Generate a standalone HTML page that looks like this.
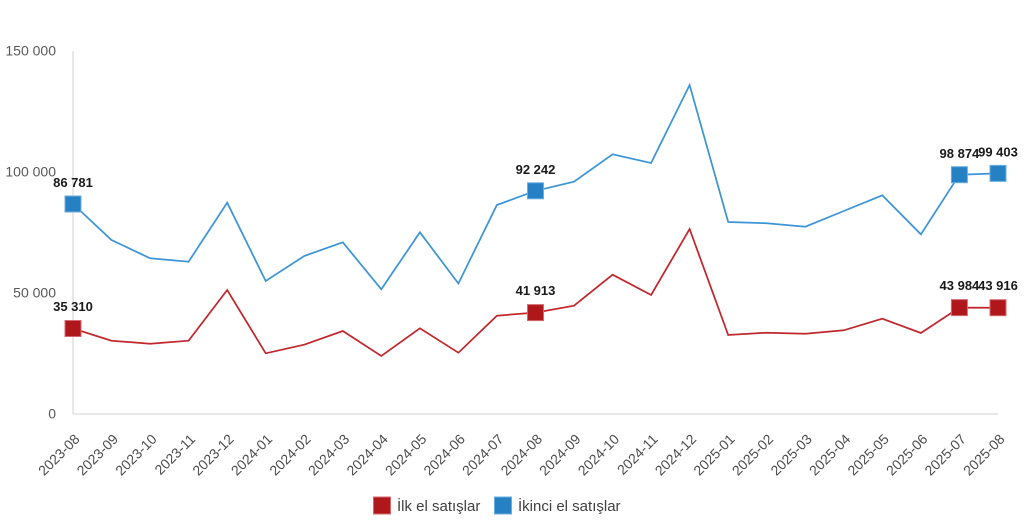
<!DOCTYPE html>
<html>
<head>
<meta charset="utf-8">
<style>
  html, body { margin: 0; padding: 0; background: #ffffff; }
  svg { display: block; }
  .yl { font-family: "Liberation Sans", Arial, sans-serif; font-size: 14px; fill: #595959; }
  .xl { font-family: "Liberation Sans", Arial, sans-serif; font-size: 14px; fill: #4d4d4d; }
  .dl { font-family: "Liberation Sans", Arial, sans-serif; font-size: 13px; font-weight: bold; fill: #1a1a1a; }
  .lg { font-family: "Liberation Sans", Arial, sans-serif; font-size: 15px; fill: #404040; }
</style>
</head>
<body>
<svg width="1024" height="526" viewBox="0 0 1024 526" xmlns="http://www.w3.org/2000/svg">
  <rect width="1024" height="526" fill="#ffffff"/>
  <!-- axes -->
  <line x1="73" y1="51" x2="73" y2="414" stroke="#d9d9d9" stroke-width="1.2"/>
  <line x1="73" y1="414" x2="998" y2="414" stroke="#d9d9d9" stroke-width="1.2"/>

  <!-- y labels -->
  <text class="yl" x="56" y="55.5" text-anchor="end">150 000</text>
  <text class="yl" x="56" y="176.5" text-anchor="end">100 000</text>
  <text class="yl" x="56" y="297.5" text-anchor="end">50 000</text>
  <text class="yl" x="56" y="418.5" text-anchor="end">0</text>

  <!-- x labels -->
  <g class="xl" text-anchor="end">
    <text transform="translate(80.5,440) rotate(-45)">2023-08</text>
    <text transform="translate(119,440) rotate(-45)">2023-09</text>
    <text transform="translate(157.6,440) rotate(-45)">2023-10</text>
    <text transform="translate(196.1,440) rotate(-45)">2023-11</text>
    <text transform="translate(234.7,440) rotate(-45)">2023-12</text>
    <text transform="translate(273.2,440) rotate(-45)">2024-01</text>
    <text transform="translate(311.7,440) rotate(-45)">2024-02</text>
    <text transform="translate(350.3,440) rotate(-45)">2024-03</text>
    <text transform="translate(388.8,440) rotate(-45)">2024-04</text>
    <text transform="translate(427.4,440) rotate(-45)">2024-05</text>
    <text transform="translate(465.9,440) rotate(-45)">2024-06</text>
    <text transform="translate(504.4,440) rotate(-45)">2024-07</text>
    <text transform="translate(543,440) rotate(-45)">2024-08</text>
    <text transform="translate(581.5,440) rotate(-45)">2024-09</text>
    <text transform="translate(620.1,440) rotate(-45)">2024-10</text>
    <text transform="translate(658.6,440) rotate(-45)">2024-11</text>
    <text transform="translate(697.1,440) rotate(-45)">2024-12</text>
    <text transform="translate(735.7,440) rotate(-45)">2025-01</text>
    <text transform="translate(774.2,440) rotate(-45)">2025-02</text>
    <text transform="translate(812.8,440) rotate(-45)">2025-03</text>
    <text transform="translate(851.3,440) rotate(-45)">2025-04</text>
    <text transform="translate(889.8,440) rotate(-45)">2025-05</text>
    <text transform="translate(928.4,440) rotate(-45)">2025-06</text>
    <text transform="translate(966.9,440) rotate(-45)">2025-07</text>
    <text transform="translate(1005.5,440) rotate(-45)">2025-08</text>
  </g>

  <!-- blue series -->
  <polyline fill="none" stroke="#3d95d6" stroke-width="1.75" stroke-linejoin="miter"
    points="73,204 111.5,240 150.1,258.3 188.6,261.7 227.2,202.7 265.7,281 304.2,256 342.8,242.3 381.3,289.3 419.9,232.3 458.4,283.5 496.9,205 535.5,190.8 574,181.7 612.6,154.3 651.1,163 689.6,85 728.2,222 766.7,223.3 805.3,226.7 843.8,211 882.3,195.3 920.9,234.3 959.4,174.7 998,173.4"/>
  <!-- red series -->
  <polyline fill="none" stroke="#c0282e" stroke-width="1.75" stroke-linejoin="miter"
    points="73,328.5 111.5,340.7 150.1,343.7 188.6,340.7 227.2,290 265.7,353.3 304.2,344.7 342.8,331 381.3,356 419.9,328.3 458.4,352.7 496.9,315.7 535.5,312.6 574,305.7 612.6,274.7 651.1,295 689.6,229 728.2,335 766.7,332.7 805.3,333.7 843.8,330.3 882.3,318.7 920.9,333 959.4,307.6 998,307.7"/>

  <!-- blue markers -->
  <g fill="#2581c4" stroke="#6aaee0" stroke-width="1">
    <rect x="65" y="196" width="16" height="16"/>
    <rect x="527.5" y="182.8" width="16" height="16"/>
    <rect x="951.4" y="166.7" width="16" height="16"/>
    <rect x="990" y="165.4" width="16" height="16"/>
  </g>
  <!-- red markers -->
  <g fill="#b0171b" stroke="#d46a6d" stroke-width="1">
    <rect x="65" y="320.5" width="16" height="16"/>
    <rect x="527.5" y="304.6" width="16" height="16"/>
    <rect x="951.4" y="299.6" width="16" height="16"/>
    <rect x="990" y="299.7" width="16" height="16"/>
  </g>

  <!-- data labels -->
  <g class="dl" text-anchor="middle">
    <text x="73" y="187">86 781</text>
    <text x="535.5" y="174">92 242</text>
    <text x="959.4" y="158">98 874</text>
    <text x="998" y="156.5">99 403</text>
    <text x="73" y="311">35 310</text>
    <text x="535.5" y="295">41 913</text>
    <text x="959.4" y="290">43 984</text>
    <text x="998" y="290">43 916</text>
  </g>

  <!-- legend -->
  <rect x="373.5" y="497" width="17" height="17" fill="#b0171b" stroke="#d46a6d" stroke-width="1"/>
  <text class="lg" x="397" y="511">İlk el satışlar</text>
  <rect x="494.5" y="497" width="17" height="17" fill="#2581c4" stroke="#6aaee0" stroke-width="1"/>
  <text class="lg" x="518" y="511">İkinci el satışlar</text>
</svg>
</body>
</html>
